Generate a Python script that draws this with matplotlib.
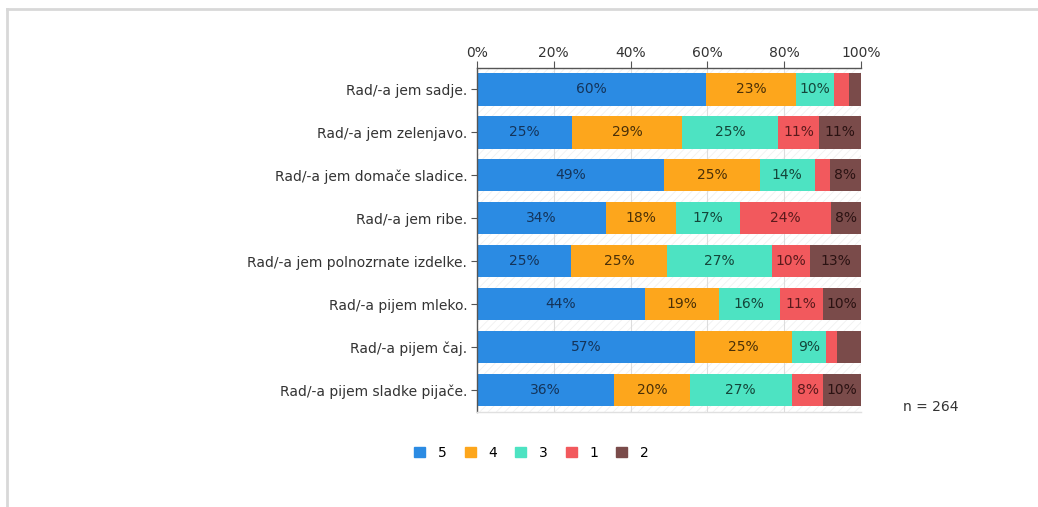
import numpy as np
import matplotlib.pyplot as plt
import matplotlib.patches as mpatches

plt.rcParams.update({
    "font.family": ["DejaVu Sans"],
    "font.size": 10,
    "axes.linewidth": 1.0,
    "hatch.linewidth": 0.6,
})

# =========================
# data (percent)
# =========================
categories = [
    "Rad/-a jem sadje.",
    "Rad/-a jem zelenjavo.",
    "Rad/-a jem domače sladice.",
    "Rad/-a jem ribe.",
    "Rad/-a jem polnozrnate izdelke.",
    "Rad/-a pijem mleko.",
    "Rad/-a pijem čaj.",
    "Rad/-a pijem sladke pijače.",
]
series_names = ["5", "4", "3", "1", "2"]
v5 = [59.7, 24.8, 48.8, 33.7, 24.6, 43.8, 56.9, 35.7]
v4 = [23.3, 28.6, 24.8, 18.2, 24.9, 19.1, 25.0, 19.7]
v3 = [10.0, 25.0, 14.4, 16.6, 27.2, 15.9, 9.0, 26.6]
v1 = [4.0, 10.7, 3.8, 23.6, 10.1, 11.2, 2.9, 8.2]
v2 = [3.0, 10.9, 8.2, 7.9, 13.2, 10.0, 6.2, 9.8]
n_label = "n = 264"

COLORS = ["#2b8be3", "#fda61c", "#4de3c2", "#f2595d", "#7a4b4a"]
TEXT_COLORS = ["#14345a", "#4a3008", "#14463a", "#5a1a1c", "#2a1212"]

values = [v5, v4, v3, v1, v2]

fig = plt.figure(figsize=(10.38, 5.07), dpi=100)
ax = fig.add_axes([0.4595, 0.188, 0.370, 0.678])

y = np.arange(len(categories))

# faint diagonal hatch behind the bars
bg = mpatches.Rectangle((0, 0), 1, 1, transform=ax.transAxes, facecolor="none",
                        edgecolor="#f1f1f1", hatch="////", linewidth=0, zorder=0)
ax.add_patch(bg)

left = np.zeros(len(categories))
for name, vals, col, tcol in zip(series_names, values, COLORS, TEXT_COLORS):
    vals = np.array(vals)
    ax.barh(y, vals, left=left, height=0.75, color=col, label=name, zorder=2)
    for yi, l, v in zip(y, left, vals):
        if v >= 7.5:
            ax.text(l + v / 2, yi, f"{v:.0f}%", ha="center", va="center",
                    fontsize=10, color=tcol, zorder=3)
    left += vals

ax.set_xlim(0, 100)
ax.set_ylim(len(categories) - 0.5, -0.5)
ax.set_yticks(y)
ax.set_yticklabels(categories, fontsize=10, color="#333333")
ax.set_xticks([0, 20, 40, 60, 80, 100])
ax.set_xticklabels(["0%", "20%", "40%", "60%", "80%", "100%"], fontsize=10, color="#333333")
ax.xaxis.tick_top()
ax.tick_params(axis="x", length=5, color="#555555", pad=0.5)
ax.tick_params(axis="y", length=4, color="#555555", pad=3)

ax.grid(True, axis="x", color="#dddddd", linewidth=0.8, zorder=1)
ax.set_axisbelow(True)

for s in ["top", "left"]:
    ax.spines[s].set_color("#555555")
ax.spines["right"].set_visible(False)
ax.spines["bottom"].set_color("#e0e0e0")

fig.text(0.870, 0.197, n_label, fontsize=10, color="#333333", va="center")

handles = [mpatches.Patch(color=c) for c in COLORS]
fig.legend(handles, series_names, loc="center", bbox_to_anchor=(0.512, 0.107),
           ncol=5, frameon=False, handlelength=0.8, handleheight=0.8,
           columnspacing=1.3, handletextpad=0.9, fontsize=10)

# outer frame lines (top and left)
fig.add_artist(plt.Line2D([0.0065, 1.0], [0.982, 0.982], color="#d8d8d8", linewidth=2,
                          transform=fig.transFigure))
fig.add_artist(plt.Line2D([0.0065, 0.0065], [0.0, 0.982], color="#d8d8d8", linewidth=2,
                          transform=fig.transFigure))

fig.savefig("out.png", dpi=100)
